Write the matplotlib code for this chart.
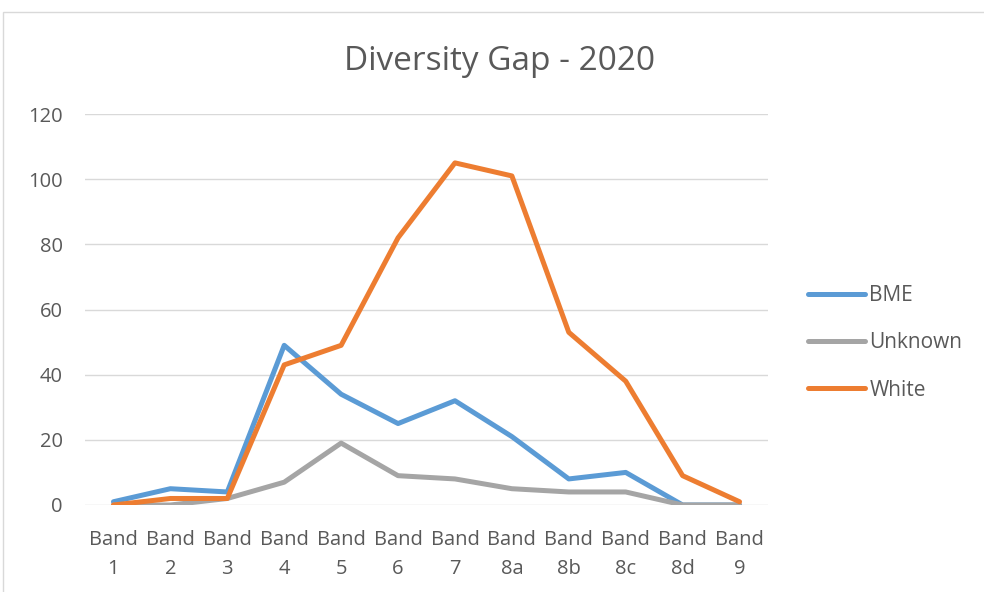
import matplotlib
matplotlib.use("Agg")
import matplotlib.pyplot as plt
from matplotlib.patches import Rectangle

bands = ["Band\n1", "Band\n2", "Band\n3", "Band\n4", "Band\n5", "Band\n6",
         "Band\n7", "Band\n8a", "Band\n8b", "Band\n8c", "Band\n8d", "Band\n9"]
bme = [1, 5, 4, 49, 34, 25, 32, 21, 8, 10, 0, 0]
unknown = [0, 0, 2, 7, 19, 9, 8, 5, 4, 4, 0, 0]
white = [0, 2, 2, 43, 49, 82, 105, 101, 53, 38, 9, 1]

plt.rcParams['font.family'] = ['Open Sans', 'DejaVu Sans']
text_col = "#595959"

fig = plt.figure(figsize=(9.84, 5.92), dpi=100)
fig.patches.append(Rectangle((3 / 984, -0.1), 1.1, 1 - 12 / 592 + 0.1,
                             transform=fig.transFigure, fill=False,
                             edgecolor="#d9d9d9", linewidth=1))
ax = fig.add_axes([85 / 984, 1 - 505 / 592, (768 - 85) / 984, (505 - 114) / 592])

x = list(range(len(bands)))
ax.plot(x, bme, color="#5b9bd5", lw=3.6, label="BME", solid_capstyle="round")
ax.plot(x, unknown, color="#a5a5a5", lw=3.6, label="Unknown", solid_capstyle="round")
ax.plot(x, white, color="#ed7d31", lw=3.6, label="White", solid_capstyle="round")

ax.set_xlim(-0.5, len(bands) - 0.5)
ax.set_ylim(0, 120)
ax.set_yticks(range(0, 121, 20))
ax.set_xticks(x)
ax.set_xticklabels(bands, linespacing=1.6)
ax.grid(axis="y", color="#d9d9d9", lw=1)
ax.set_axisbelow(True)
for s in ax.spines.values():
    s.set_visible(False)
ax.tick_params(length=0, labelsize=14.5, colors=text_col, pad=18)
ax.tick_params(axis="y", pad=16)

fig.text(500 / 984, 1 - 61 / 592, "Diversity Gap - 2020", ha="center", va="center",
         fontsize=24, color=text_col)

ax.legend(loc="center left", bbox_to_anchor=(789 / 984, 1 - 343 / 592),
          bbox_transform=fig.transFigure, frameon=False, fontsize=15,
          labelcolor=text_col, handlelength=2.75, labelspacing=1.25, handletextpad=0.2)

fig.savefig("out.png", dpi=100)
